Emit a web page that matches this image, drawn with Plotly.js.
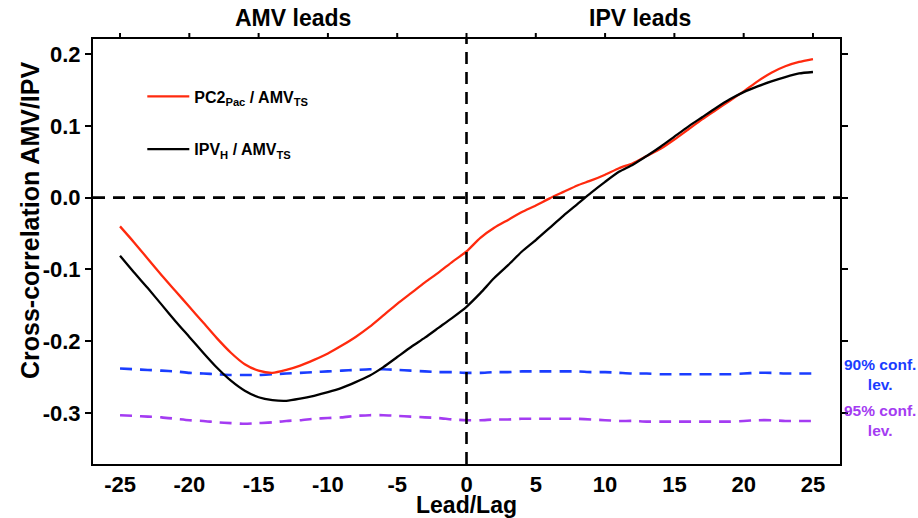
<!DOCTYPE html>
<html>
<head>
<meta charset="utf-8">
<script src="https://cdn.plot.ly/plotly-3.0.1.min.js"></script>
<style>
  html, body { margin: 0; padding: 0; background: #ffffff; }
  #chart { width: 918px; height: 518px; }
</style>
</head>
<body>
<div id="chart"></div>
<script>
// Lead/lag in years (negative: AMV leads, positive: IPV leads)
const lags = [-25, -24, -23, -22, -21, -20, -19, -18, -17, -16, -15, -14, -13, -12, -11, -10,
  -9, -8, -7, -6, -5, -4, -3, -2, -1, 0, 1, 2, 3, 4, 5, 6, 7, 8, 9, 10, 11, 12, 13, 14, 15,
  16, 17, 18, 19, 20, 21, 22, 23, 24, 25];

// Cross-correlation PC2_Pac vs AMV_TS
const pc2Pac = [-0.040, -0.062, -0.085, -0.108, -0.130, -0.152, -0.174, -0.196, -0.216, -0.232,
  -0.241, -0.244, -0.240, -0.234, -0.226, -0.217, -0.206, -0.194, -0.180, -0.164, -0.148,
  -0.133, -0.118, -0.104, -0.089, -0.075, -0.056, -0.042, -0.031, -0.020, -0.011, -0.001,
  0.008, 0.017, 0.024, 0.032, 0.041, 0.048, 0.058, 0.068, 0.081, 0.095, 0.109, 0.122, 0.135,
  0.148, 0.162, 0.174, 0.183, 0.189, 0.193];

// Cross-correlation IPV_H vs AMV_TS
const ipvH = [-0.081, -0.104, -0.126, -0.149, -0.172, -0.194, -0.216, -0.237, -0.255, -0.269,
  -0.278, -0.282, -0.283, -0.280, -0.276, -0.271, -0.265, -0.257, -0.248, -0.236, -0.222,
  -0.208, -0.195, -0.181, -0.167, -0.152, -0.133, -0.112, -0.094, -0.075, -0.059, -0.042,
  -0.025, -0.009, 0.007, 0.022, 0.036, 0.046, 0.058, 0.071, 0.085, 0.099, 0.112, 0.125, 0.137,
  0.147, 0.155, 0.162, 0.168, 0.173, 0.175];

// Significance thresholds
const conf90 = [-0.238, -0.239, -0.240, -0.241, -0.242, -0.244, -0.245, -0.246, -0.247, -0.247,
  -0.247, -0.246, -0.245, -0.244, -0.243, -0.242, -0.241, -0.240, -0.239, -0.239, -0.240,
  -0.241, -0.242, -0.243, -0.243, -0.244, -0.244, -0.243, -0.243, -0.242, -0.242, -0.242,
  -0.242, -0.242, -0.243, -0.243, -0.244, -0.245, -0.245, -0.246, -0.246, -0.246, -0.246,
  -0.246, -0.246, -0.245, -0.244, -0.244, -0.245, -0.245, -0.245];

const conf95 = [-0.303, -0.304, -0.305, -0.306, -0.308, -0.310, -0.311, -0.313, -0.314, -0.315,
  -0.314, -0.313, -0.311, -0.310, -0.308, -0.307, -0.306, -0.304, -0.303, -0.303, -0.304,
  -0.305, -0.306, -0.307, -0.309, -0.310, -0.310, -0.309, -0.309, -0.308, -0.308, -0.308,
  -0.308, -0.308, -0.309, -0.310, -0.311, -0.311, -0.312, -0.312, -0.312, -0.312, -0.312,
  -0.312, -0.312, -0.311, -0.310, -0.310, -0.311, -0.311, -0.311];

const xTicks = [-25, -20, -15, -10, -5, 0, 5, 10, 15, 20, 25];
const xTickText = ['-25', '-20', '-15', '-10', '-5', '0', '5', '10', '15', '20', '25'];
const yTicks = [0.2, 0.1, 0.0, -0.1, -0.2, -0.3];
const yTickText = ['0.2', '0.1', '0.0', '-0.1', '-0.2', '-0.3'];

const FONT = 'Liberation Sans, Arial, sans-serif';
const RED = '#ff2a0e';
const BLUE = '#1a3dff';
const PURPLE = '#a43cf2';

const traces = [
  {
    x: lags, y: conf90, mode: 'lines', showlegend: false, hoverinfo: 'skip',
    line: { color: BLUE, width: 2.6, dash: '12px,8px', shape: 'spline', smoothing: 0.6 }
  },
  {
    x: lags, y: conf95, mode: 'lines', showlegend: false, hoverinfo: 'skip',
    line: { color: PURPLE, width: 2.6, dash: '12px,8px', shape: 'spline', smoothing: 0.6 }
  },
  {
    x: lags, y: pc2Pac, mode: 'lines', legendgroup: 'a',
    name: '<b>PC2<sub>Pac</sub> / AMV<sub>TS</sub></b>',
    line: { color: RED, width: 2.3, shape: 'spline', smoothing: 0.6 }
  },
  {
    x: lags, y: ipvH, mode: 'lines', legendgroup: 'b',
    name: '<b>IPV<sub>H</sub> / AMV<sub>TS</sub></b>',
    line: { color: '#000000', width: 2.3, shape: 'spline', smoothing: 0.6 }
  }
];

const xRange = [-26.95, 26.95];
const yRange = [-0.371, 0.221];
const plotH = 518 - 39 - 54;

// Reference lines at zero lag and zero correlation
const shapes = [
  { type: 'line', xref: 'paper', x0: 0, x1: 1, yref: 'y', y0: 0, y1: 0,
    line: { color: '#000000', width: 2.6, dash: '12px,8px' } },
  { type: 'line', xref: 'x', x0: 0, x1: 0, yref: 'paper', y0: 0, y1: 1,
    line: { color: '#000000', width: 2.6, dash: '12px,8px' } }
];
// Tick marks along the top frame
xTicks.forEach(function (v) {
  shapes.push({ type: 'line', xref: 'x', x0: v, x1: v, yref: 'paper',
    y0: 1, y1: 1 + 6 / plotH, line: { color: '#000000', width: 2 } });
});

const layout = {
  width: 918, height: 518,
  margin: { l: 93, r: 78, t: 39, b: 54 },
  paper_bgcolor: '#ffffff', plot_bgcolor: '#ffffff',
  font: { family: FONT, color: '#000000' },
  showlegend: true,
  legend: {
    x: 0.066, y: 0.905, xanchor: 'left', yanchor: 'top',
    bgcolor: 'rgba(0,0,0,0)', borderwidth: 0, itemwidth: 42,
    font: { family: FONT, size: 16, color: '#000000' },
    tracegroupgap: 29, traceorder: 'grouped'
  },
  xaxis: {
    range: xRange, tickvals: xTicks, ticktext: xTickText,
    ticks: '', showgrid: false, zeroline: false,
    showline: true, linecolor: '#000000', linewidth: 2, mirror: true,
    tickfont: { family: FONT, size: 22, color: '#000000', weight: 'bold' },
    title: { text: '<b>Lead/Lag</b>', font: { family: FONT, size: 23 }, standoff: 6 }
  },
  yaxis: {
    range: yRange, tickvals: yTicks, ticktext: yTickText,
    ticks: 'outside', ticklen: 6, tickwidth: 2, tickcolor: '#000000',
    showgrid: false, zeroline: false,
    showline: true, linecolor: '#000000', linewidth: 2, mirror: 'allticks',
    tickfont: { family: FONT, size: 22, color: '#000000', weight: 'bold' }
  },
  shapes: shapes,
  annotations: [
    { text: '<b>Cross-correlation AMV/IPV</b>', textangle: -90,
      xref: 'paper', x: 0, xshift: -63, xanchor: 'center',
      yref: 'paper', y: 0.574, yanchor: 'middle',
      showarrow: false, font: { family: FONT, size: 25, color: '#000000' } },
    { text: '<b>AMV leads</b>', xref: 'x', x: -12.5, yref: 'paper', y: 1, yshift: 21,
      xanchor: 'center', yanchor: 'middle',
      showarrow: false, font: { family: FONT, size: 23, color: '#000000' } },
    { text: '<b>IPV leads</b>', xref: 'x', x: 12.5, yref: 'paper', y: 1, yshift: 21,
      xanchor: 'center', yanchor: 'middle',
      showarrow: false, font: { family: FONT, size: 23, color: '#000000' } },
    { text: '<b>90% conf.<br>lev.</b>', xref: 'paper', x: 1, xshift: 40, xanchor: 'center',
      yref: 'y', y: -0.246, yanchor: 'middle',
      showarrow: false, align: 'center', font: { family: FONT, size: 15.5, color: BLUE } },
    { text: '<b>95% conf.<br>lev.</b>', xref: 'paper', x: 1, xshift: 40, xanchor: 'center',
      yref: 'y', y: -0.311, yanchor: 'middle',
      showarrow: false, align: 'center', font: { family: FONT, size: 15.5, color: PURPLE } }
  ]
};

Plotly.newPlot('chart', traces, layout, { displayModeBar: false, staticPlot: true });
</script>
</body>
</html>
